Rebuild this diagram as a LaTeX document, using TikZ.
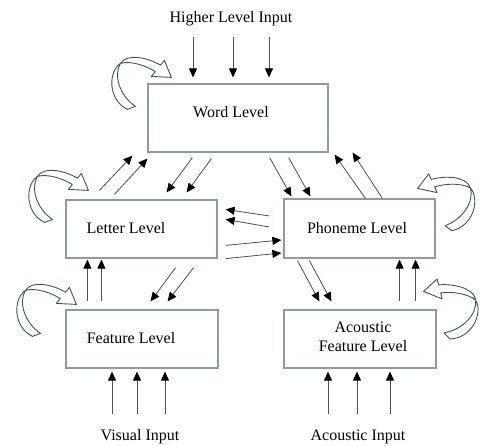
\documentclass[tikz,border=0pt]{standalone}
\usepackage{fontspec}
\setmainfont{Liberation Serif}
\usetikzlibrary{arrows.meta,calc}

\definecolor{boxc}{HTML}{8C9BA8}
\definecolor{linec}{HTML}{505050}
\definecolor{loopc}{HTML}{3E5566}

\tikzset{
  level/.style={draw=boxc, line width=1.2pt, inner sep=0pt, fill=white},
  lbl/.style={font=\fontsize{16}{19}\selectfont, text=black, inner sep=0pt, align=center},
  arr/.style={draw=linec, line width=0.8pt,
              -{Triangle[length=9pt,width=8pt,color=black]}},
  % hollow curved feedback arrow, tip at the pic origin
  loopar/.pic={
    \draw[loopc, line width=0.9pt, fill=white, line join=round]
      (-51,-14) .. controls (-44,-25) and (-22,-19) .. (-10.9,-12.2)
      -- (-7,-17) -- (0,0) -- (-20,-1) -- (-16.1,-5.8)
      .. controls (-24.5,-11.3) and (-40,-17) .. (-51,-14)
      .. controls (-58,-2) and (-52,18) .. (-36,29)
      -- (-44,32)
      .. controls (-64,22) and (-63,-6) .. (-51,-14) -- cycle;
  }
}

\begin{document}
\begin{tikzpicture}[x=1pt,y=-1pt]
\useasboundingbox (0,0) rectangle (485,446);
\fill[white] (0,0) rectangle (485,446);

% level boxes
\node[level, minimum width=180pt, minimum height=68pt] (word)   at (238,118)   {};
\node[level, minimum width=151pt, minimum height=58pt] (letter) at (141.5,229) {};
\node[level, minimum width=151pt, minimum height=59pt] (phon)   at (359.5,228.5) {};
\node[level, minimum width=152pt, minimum height=58pt] (feat)   at (142,339)   {};
\node[level, minimum width=152pt, minimum height=58pt] (acou)   at (360,339)   {};

% labels
\node[lbl] (wordtxt)   at (231,112) {Word Level};
\node[lbl] (lettertxt) at (126,228) {Letter Level};
\node[lbl] (phontxt)   at (357,228) {Phoneme Level};
\node[lbl] (feattxt)   at (131,338) {Feature Level};
\node[lbl] (acoutxt)   at (363,336.5) {Acoustic\\[0pt]Feature Level};
\node[lbl] (higher)    at (231,19)  {Higher Level Input};
\node[lbl] (visual)    at (140,437) {Visual Input};
\node[lbl] (acin)      at (358,437) {Acoustic Input};

% higher level input
\foreach \dx in {-45,-5,31}
  \draw[arr] ($(word.north)+(\dx,-46)$) -- ($(word.north)+(\dx,-6)$);

% visual input
\foreach \dx in {-30,-5,23}
  \draw[arr] ($(feat.south)+(\dx,45)$) -- ($(feat.south)+(\dx,3)$);

% acoustic input
\foreach \dx in {-32,-3,30}
  \draw[arr] ($(acou.south)+(\dx,45)$) -- ($(acou.south)+(\dx,3)$);

% letter <-> word
\draw[arr] ($(letter.north west)+(34,-9)$) -- ($(word.south west)+(-15,3)$);
\draw[arr] ($(letter.north west)+(49,-5)$) -- ($(word.south west)+(0,6)$);
\draw[arr] ($(word.south west)+(45,5)$) -- ($(letter.north east)+(-51,-7)$);
\draw[arr] ($(word.south west)+(64,6)$) -- ($(letter.north east)+(-31,-7)$);

% word <-> phoneme
\draw[arr] ($(word.south east)+(-59,5)$) -- ($(phon.north west)+(8,-2)$);
\draw[arr] ($(word.south east)+(-40,5)$) -- ($(phon.north west)+(27,-2)$);
\draw[arr] ($(phon.north west)+(82,0)$) -- ($(word.south east)+(6,2)$);
\draw[arr] ($(phon.north west)+(99,0)$) -- ($(word.south east)+(24,0)$);

% letter <-> phoneme
\draw[arr] ($(phon.west)+(-14,-12.5)$) -- ($(letter.north east)+(8,10)$);
\draw[arr] ($(phon.west)+(-14,-1.5)$) -- ($(letter.north east)+(8,20)$);
\draw[arr] ($(letter.north east)+(8,46)$) -- ($(phon.west)+(-2,11.5)$);
\draw[arr] ($(letter.south east)+(8,0)$) -- ($(phon.west)+(-2,24.5)$);

% feature <-> letter
\draw[arr] ($(feat.north west)+(22,-8)$) -- ($(letter.south west)+(22,1)$);
\draw[arr] ($(feat.north west)+(36,-8)$) -- ($(letter.south west)+(36,1)$);
\draw[arr] ($(letter.south east)+(-42,9)$) -- ($(feat.north east)+(-68,-8)$);
\draw[arr] ($(letter.south east)+(-24,9)$) -- ($(feat.north east)+(-51,-8)$);

% phoneme <-> acoustic feature
\draw[arr] ($(phon.south west)+(14,2)$) -- ($(acou.north west)+(36,-8)$);
\draw[arr] ($(phon.south west)+(26,2)$) -- ($(acou.north west)+(48,-8)$);
\draw[arr] ($(acou.north east)+(-37,-8)$) -- ($(phon.south east)+(-36,1)$);
\draw[arr] ($(acou.north east)+(-21,-8)$) -- ($(phon.south east)+(-20,1)$);

% self-excitation loops
\pic at ($(word.north west)+(24,-6)$) {loopar};
\pic at ($(letter.north west)+(23,-9)$) {loopar};
\pic at ($(feat.north west)+(11,-5)$) {loopar};
\pic[rotate=-15, xscale=-1] at ($(phon.north east)+(-18,-10)$) {loopar};
\pic[rotate=-25, xscale=-1] at ($(acou.north east)+(-13,-18)$) {loopar};
\end{tikzpicture}
\end{document}
